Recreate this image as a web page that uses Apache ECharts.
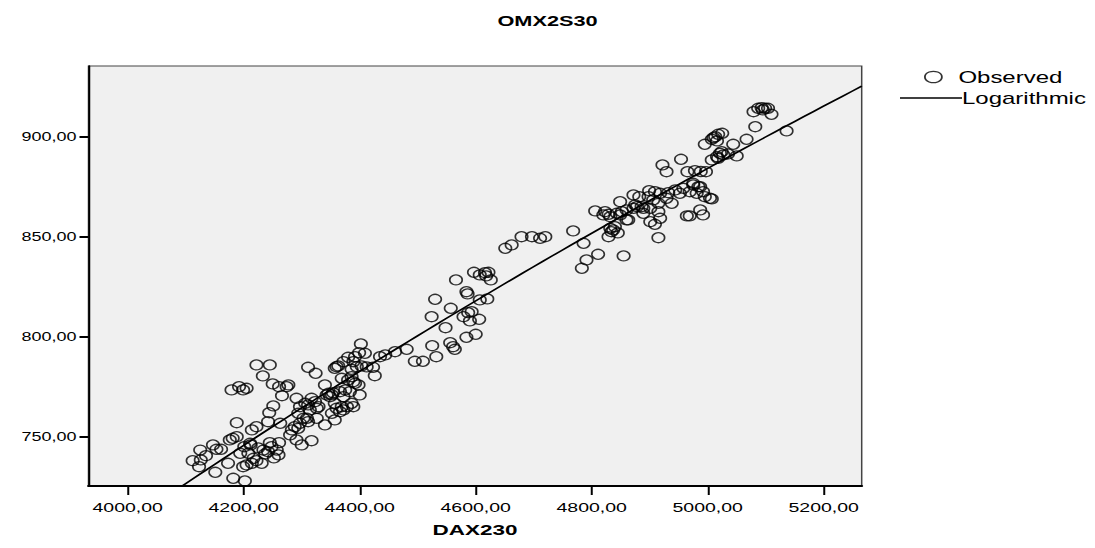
<!DOCTYPE html>
<html>
<head>
<meta charset="utf-8">
<script src="https://cdn.jsdelivr.net/npm/echarts@6/dist/echarts.min.js"></script>
<style>
html,body{margin:0;padding:0;background:#fff;overflow:hidden;width:1095px;height:548px;}
/* the reference picture is horizontally stretched; draw at narrower width and stretch */
#chart{width:730px;height:548px;transform:scaleX(1.5);transform-origin:0 0;}
</style>
</head>
<body>
<div id="chart"></div>
<script>
const dax230 = [
4112,4125,4123,4126,4135,4147,4153,4161,4151,4173,4182,4202,4179,4192,4199,4205,4222,4245,4233,4250,
4261,4274,4266,4251,4244,4188,4181,4188,4176,4214,4222,4242,4263,4280,4291,4300,4317,4212,4208,4199,
4205,4214,4217,4222,4234,4237,4245,4248,4257,4260,4261,4231,4242,4194,4211,4225,4252,4201,
4402,4399,4409,4392,4380,4372,4389,4360,4357,4363,4386,4395,4403,4412,4423,4426,4435,4444,4461,4481,
4495,4509,4311,4324,4277,
4340,4369,4380,4386,4392,4398,4389,4343,4346,4349,4352,4354,4366,4375,4383,4400,4291,4317,4306,4311,
4323,4326,4329,4357,4360,4369,4372,4366,4386,4389,4352,4357,4340,4294,4303,4309,4311,4297,4326,4288,
4294,4283,4297,4314,4378,4372,
4597,4607,4616,4622,4618,4626,4566,4584,4586,4530,4607,4620,4557,4524,4587,4579,4590,4606,4548,4584,
4600,4525,4556,4561,4564,4532,4593,
4651,4662,4679,4697,4711,4720,4768,4786,4811,4791,4783,4855,4829,4832,4837,4840,4834,4845,4863,4909,
4918,4915,4964,4849,4806,4823,4829,4843,4852,4860,4872,4878,4889,4901,4820,4832,4849,4860,4901,
4954,4922,4929,4965,4978,4997,4872,4882,4899,4909,4918,4932,4944,4958,4975,4987,4992,4981,5004,4969,
4952,4929,4938,4915,4906,4898,4886,4875,4889,4915,4969,4987,4992,
5079,5087,5093,5099,5104,5110,5095,5082,5136,5067,5044,5050,4995,5007,5013,5018,5025,5010,5016,5007,
5016,5021,5024,5027,5018,5035,4988,4975,4984,4995,5007
];
const omx2s30 = [
738.0,743.3,735.0,738.4,740.5,745.9,743.7,743.7,732.2,736.7,729.2,727.9,773.4,775.0,773.4,774.2,785.9,785.9,780.4,776.4,
775.0,775.0,770.5,765.4,762.0,757.0,749.2,750.0,748.4,753.4,755.0,757.5,756.7,750.9,748.4,745.9,748.0,745.9,741.7,735.0,
735.9,736.7,739.2,738.0,743.3,741.4,747.0,745.0,743.3,740.9,747.0,736.7,742.5,741.7,746.7,744.4,739.4,745.0,
796.4,792.0,791.7,790.0,789.7,787.5,787.5,785.0,784.2,785.4,783.7,785.0,785.4,784.9,784.7,780.5,790.0,790.9,792.5,793.7,
787.7,787.7,784.7,781.7,775.9,
775.9,779.2,778.4,780.0,776.7,775.9,777.5,770.9,771.7,770.0,770.9,772.0,772.5,773.4,772.5,770.9,769.2,769.2,766.7,765.9,
767.5,764.2,765.0,766.7,764.2,765.0,763.4,762.5,766.7,765.0,761.7,758.4,755.9,761.7,759.2,759.2,757.5,756.7,759.2,755.0,
754.2,753.4,765.0,763.4,765.0,770.0,
832.2,830.9,832.0,832.2,830.4,828.4,828.4,822.5,821.4,818.7,818.4,818.9,814.2,810.0,812.0,810.0,807.9,808.7,804.5,799.7,
801.2,795.5,797.0,795.0,793.7,790.0,812.5,
844.2,845.9,850.0,850.0,849.2,850.0,852.9,846.7,841.2,838.4,834.2,840.4,850.0,854.2,853.4,855.0,852.5,851.9,858.4,856.2,
859.2,849.5,860.4,867.5,862.9,862.5,861.2,861.7,862.5,863.4,864.2,865.0,864.2,864.2,860.9,860.0,860.9,858.4,857.5,
888.7,885.9,882.5,882.5,883.0,882.5,870.9,870.0,873.0,872.5,871.7,872.0,873.4,874.2,876.7,875.0,872.5,871.7,869.2,872.5,
871.7,869.2,866.7,866.7,868.4,870.0,865.0,865.9,861.7,862.5,860.4,863.4,860.9,
912.5,914.2,914.5,914.2,914.2,911.2,913.4,905.0,902.9,898.7,896.2,890.4,896.2,898.7,900.0,901.2,901.7,899.5,897.9,888.4,
890.0,891.7,892.5,890.9,889.2,891.4,882.6,875.9,875.0,870.0,868.9
];
const xTicks = [4000, 4200, 4400, 4600, 4800, 5000, 5200];
const yTicks = [750, 800, 850, 900];
const xRange = [3932.4, 5265.5];
const yRange = [725.35, 935.35];

const observed = dax230.map((x, i) => [x, omx2s30[i]]);

// Logarithmic fit y = b0 + b1*ln(x), least squares on the observations
const n = observed.length;
let sl = 0, sy = 0;
observed.forEach(p => { sl += Math.log(p[0]); sy += p[1]; });
const ml = sl / n, my = sy / n;
let sxy = 0, sxx = 0;
observed.forEach(p => { const d = Math.log(p[0]) - ml; sxy += d * (p[1] - my); sxx += d * d; });
const b1 = sxy / sxx, b0 = my - b1 * ml;
const fitLine = [];
const steps = 80;
for (let i = 0; i <= steps; i++) {
  const x = xRange[0] + (xRange[1] - xRange[0]) * i / steps;
  fitLine.push([x, b0 + b1 * Math.log(x)]);
}

const S = 1.5; // horizontal stretch applied by CSS
const fmt = v => v.toFixed(2).replace('.', ',');
const FONT = 'Liberation Sans, Arial, sans-serif';

const chart = echarts.init(document.getElementById('chart'), null, {renderer: 'svg', width: 730, height: 548});
chart.setOption({
  animation: false,
  backgroundColor: '#ffffff',
  textStyle: {fontFamily: FONT},
  title: {
    text: 'OMX2S30', left: 'center', top: 8,
    textStyle: {fontFamily: FONT, fontWeight: 'bold', fontSize: 14.5, color: '#000'}
  },
  legend: [
    {
      data: [{name: 'Observed', icon: 'circle'}],
      left: 924 / S, top: 69, orient: 'vertical', padding: 0,
      itemWidth: 17 / S, itemHeight: 14, itemGap: 0,
      itemStyle: {color: 'rgba(0,0,0,0)', borderColor: '#000', borderWidth: 1.2},
      textStyle: {fontFamily: FONT, fontSize: 16, color: '#000', padding: [0, 0, 0, 6]},
      selectedMode: false
    },
    {
      data: [{name: 'Logarithmic', icon: 'rect'}],
      left: 900 / S, top: 90, orient: 'vertical', padding: 0,
      itemWidth: 62 / S, itemHeight: 1.3,
      itemStyle: {color: '#000', borderWidth: 0},
      textStyle: {fontFamily: FONT, fontSize: 16, color: '#000', padding: [0, 0, 0, -5]},
      selectedMode: false
    }
  ],
  grid: {
    left: 88.5 / S, top: 66, width: 773.2 / S, height: 420,
    show: true, backgroundColor: '#f0f0f0', borderColor: '#444', borderWidth: 1
  },
  xAxis: {
    type: 'value', min: xRange[0], max: xRange[1],
    name: 'DAX230', nameLocation: 'middle', nameGap: 36,
    nameTextStyle: {fontFamily: FONT, fontWeight: 'bold', fontSize: 15, color: '#000'},
    axisLine: {show: true, onZero: false, lineStyle: {color: '#000', width: 2}},
    axisTick: {show: true, length: 9, customValues: xTicks, lineStyle: {color: '#000', width: 2 / S}},
    axisLabel: {customValues: xTicks, formatter: fmt, margin: 15, fontSize: 13, color: '#000', fontFamily: FONT},
    splitLine: {show: false}
  },
  yAxis: {
    type: 'value', min: yRange[0], max: yRange[1],
    axisLine: {show: true, onZero: false, lineStyle: {color: '#000', width: 2 / S}},
    axisTick: {show: true, length: 9 / S, customValues: yTicks, lineStyle: {color: '#000', width: 2}},
    axisLabel: {customValues: yTicks, formatter: fmt, margin: 12 / S, fontSize: 12, color: '#000', fontFamily: FONT},
    splitLine: {show: false}
  },
  series: [
    {
      name: 'Observed', type: 'scatter', data: observed,
      symbol: 'circle', symbolSize: [12.5 / S, 10],
      itemStyle: {color: 'rgba(0,0,0,0)', borderColor: '#000', borderWidth: 1.2},
      emphasis: {disabled: true}
    },
    {
      name: 'Logarithmic', type: 'line', data: fitLine,
      showSymbol: false, symbol: 'none', clip: true,
      lineStyle: {color: '#000', width: 1.5},
      emphasis: {disabled: true}
    }
  ]
});
</script>
</body>
</html>
